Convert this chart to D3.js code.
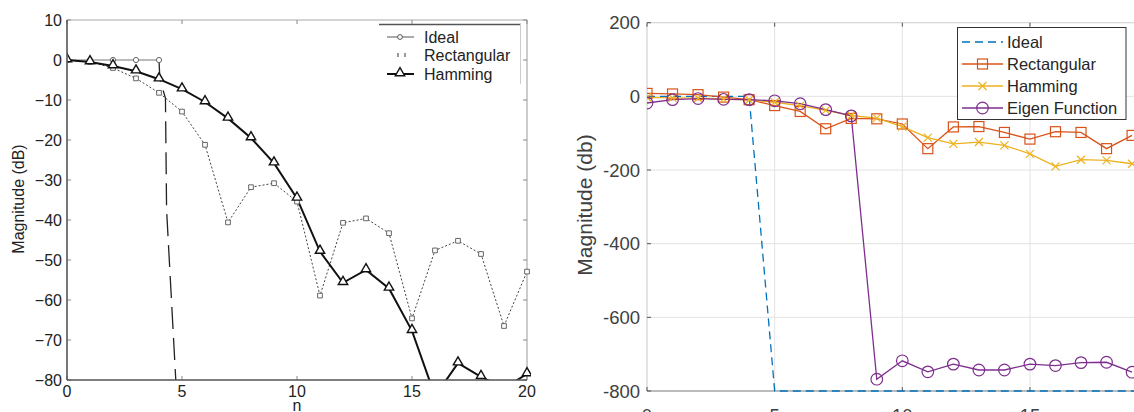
<!DOCTYPE html>
<html><head><meta charset="utf-8">
<script src="https://cdn.jsdelivr.net/npm/d3@7/dist/d3.min.js"></script>
<style>body{margin:0;background:#fff}svg{display:block;font-family:"Liberation Sans",Arial,sans-serif}</style>
</head><body><svg id="c" width="1134" height="412"></svg>
<script>
// ---------- Left chart data ----------
const nL = d3.range(0, 21);
const idealN = [0, 1, 2, 3, 4];
const idealL = [0, 0, 0, 0, 0];
const idealDropN = [4, 4.04, 4.28, 4.33, 4.73];
const idealDropV = [0, -5, -9.5, -37.5, -80];
const rectL = [0, -0.5, -2, -4.6, -8.2, -12.9, -21.2, -40.6, -31.8, -30.8, -35.4, -58.9, -40.7, -39.6, -43.3, -64.6, -47.6, -45.2, -48.5, -66.5, -52.9];
const hammL = [0, -0.5, -1.5, -2.8, -4.8, -7.3, -10.5, -14.6, -19.5, -25.8, -34.6, -47.9, -55.7, -52.5, -57.1, -67.7, -84, -75.8, -79.2, -82, -78.5];
const yTicksL = [10, 0, -10, -20, -30, -40, -50, -60, -70, -80];
const xTicksL = [0, 5, 10, 15, 20];
const legendL = ["Ideal", "Rectangular", "Hamming"];

// ---------- Right chart data ----------
const nR = d3.range(0, 20);
const idealR = [0, 0, 0, 0, 0, -800, -800, -800, -800, -800, -800, -800, -800, -800, -800, -800, -800, -800, -800, -800, -800];
const rectR = [8, 6.5, 4.6, -2, -9, -25, -41, -88, -60, -61, -75, -142, -83, -82, -98, -116, -96, -98, -142, -106];
const hammR = [-3, -4, -5, -7, -10, -16, -25, -38, -52, -59, -82, -112, -129, -124, -133, -156, -190, -172, -174, -183];
const eigenR = [-18, -9, -6, -8, -9, -12, -20, -36, -53, -768, -718, -748, -727, -743, -743, -727, -731, -723, -722, -749];
const yTicksR = [200, 0, -200, -400, -600, -800];
const xTicksR = [0, 5, 10, 15, 20];
const legendR = ["Ideal", "Rectangular", "Hamming", "Eigen Function"];

const svg = d3.select("#c");
const defs = svg.append("defs");

// ================= LEFT =================
const xL = d3.scaleLinear().domain([0, 20]).range([67, 527]);
const yL = d3.scaleLinear().domain([-80, 10]).range([380, 20]);
defs.append("clipPath").attr("id", "clipL").append("rect")
  .attr("x", xL(0)).attr("y", yL(10)).attr("width", xL(20) - xL(0) + 4).attr("height", yL(-80) - yL(10));

const gL = svg.append("g");
// box: top/right light
gL.append("line").attr("x1", xL(0)).attr("x2", xL(20)).attr("y1", yL(10)).attr("y2", yL(10)).attr("stroke", "#aaa");
gL.append("line").attr("x1", xL(20)).attr("x2", xL(20)).attr("y1", yL(10)).attr("y2", yL(-80)).attr("stroke", "#999");
// ticks inward
yTicksL.forEach(t => {
  gL.append("line").attr("x1", xL(0)).attr("x2", xL(0) + 4).attr("y1", yL(t)).attr("y2", yL(t)).attr("stroke", "#888");
  gL.append("line").attr("x1", xL(20)).attr("x2", xL(20) - 4).attr("y1", yL(t)).attr("y2", yL(t)).attr("stroke", "#888");
  gL.append("text").attr("x", 62).attr("y", yL(t)).attr("dy", "0.36em").attr("text-anchor", "end")
    .attr("font-size", 16).attr("fill", "#222").text(t < 0 ? "\u2212" + Math.abs(t) : t);
});
xTicksL.forEach(t => {
  gL.append("line").attr("x1", xL(t)).attr("x2", xL(t)).attr("y1", yL(-80)).attr("y2", yL(-80) - 4).attr("stroke", "#888");
  gL.append("line").attr("x1", xL(t)).attr("x2", xL(t)).attr("y1", yL(10)).attr("y2", yL(10) + 4).attr("stroke", "#888");
  gL.append("text").attr("x", xL(t)).attr("y", 397).attr("text-anchor", "middle")
    .attr("font-size", 16).attr("fill", "#222").text(t);
});
gL.append("text").attr("x", xL(10)).attr("y", 411).attr("text-anchor", "middle").attr("font-size", 16).attr("fill", "#222").text("n");
gL.append("text").attr("transform", "translate(24,199) rotate(-90)").attr("text-anchor", "middle")
  .attr("font-size", 16).attr("fill", "#222").text("Magnitude (dB)");

const plotL = gL.append("g").attr("clip-path", "url(#clipL)");
const lineL = d3.line().x(d => xL(d[0])).y(d => yL(d[1]));
// Ideal
plotL.append("path").attr("d", lineL(idealN.map((n, i) => [n, idealL[i]]))).attr("fill", "none").attr("stroke", "#777").attr("stroke-width", 1);
plotL.append("path").attr("d", lineL(idealDropN.map((n, i) => [n, idealDropV[i]]))).attr("fill", "none")
  .attr("stroke", "#222").attr("stroke-width", 1.3).attr("stroke-dasharray", "22,9");
// Rectangular
plotL.append("path").attr("d", lineL(nL.map((n, i) => [n, rectL[i]]))).attr("fill", "none").attr("stroke", "#444")
  .attr("stroke-width", 1).attr("stroke-dasharray", "2,2");
// Hamming
plotL.append("path").attr("d", lineL(nL.map((n, i) => [n, hammL[i]]))).attr("fill", "none").attr("stroke", "#111").attr("stroke-width", 2);
// markers
plotL.selectAll(".ci").data(idealN).enter().append("circle").attr("cx", n => xL(n)).attr("cy", (n, i) => yL(idealL[i]))
  .attr("r", 2.6).attr("fill", "#fff").attr("stroke", "#666");
plotL.selectAll(".sq").data(nL).enter().append("path")
  .attr("transform", (n, i) => `translate(${xL(n)},${yL(rectL[i])})`)
  .attr("d", d3.symbol(d3.symbolSquare, 22)()).attr("fill", "#fff").attr("stroke", "#555").attr("stroke-width", 0.9);
plotL.selectAll(".tr").data(nL).enter().append("path")
  .attr("transform", (n, i) => `translate(${xL(n)},${yL(hammL[i]) - 1})`)
  .attr("d", d3.symbol(d3.symbolTriangle, 38)()).attr("fill", "#fff").attr("stroke", "#111").attr("stroke-width", 1.4);
// axis lines left/bottom
gL.append("line").attr("x1", xL(0)).attr("x2", xL(0)).attr("y1", yL(10)).attr("y2", yL(-80)).attr("stroke", "#555").attr("stroke-width", 1.6);
gL.append("line").attr("x1", xL(0)).attr("x2", xL(20)).attr("y1", yL(-80)).attr("y2", yL(-80)).attr("stroke", "#555").attr("stroke-width", 1.6);

// legend left
const lg = gL.append("g");
lg.append("rect").attr("x", 379).attr("y", 24).attr("width", 142).attr("height", 60).attr("fill", "#fff");
lg.append("line").attr("x1", 379).attr("x2", 521).attr("y1", 24.5).attr("y2", 24.5).attr("stroke", "#555").attr("stroke-width", 1.5);
lg.append("line").attr("x1", 520.5).attr("x2", 520.5).attr("y1", 24).attr("y2", 84).attr("stroke", "#ccc");
const lyL = [37, 55, 74];
legendL.forEach((name, i) => {
  lg.append("text").attr("x", 424).attr("y", lyL[i] + 5.8).attr("font-size", 16).attr("fill", "#222").text(name);
});
lg.append("line").attr("x1", 387).attr("x2", 414).attr("y1", lyL[0]).attr("y2", lyL[0]).attr("stroke", "#555");
lg.append("circle").attr("cx", 400).attr("cy", lyL[0]).attr("r", 2.4).attr("fill", "#fff").attr("stroke", "#555");
[398, 405].forEach(x => lg.append("line").attr("x1", x).attr("x2", x).attr("y1", lyL[1] - 2).attr("y2", lyL[1] + 2).attr("stroke", "#333"));
lg.append("line").attr("x1", 387).attr("x2", 414).attr("y1", lyL[2]).attr("y2", lyL[2]).attr("stroke", "#111").attr("stroke-width", 2);
lg.append("path").attr("transform", `translate(400,${lyL[2] - 1})`).attr("d", d3.symbol(d3.symbolTriangle, 38)())
  .attr("fill", "#fff").attr("stroke", "#111").attr("stroke-width", 1.4);

// ================= RIGHT =================
const xR = d3.scaleLinear().domain([0, 20]).range([647, 1157.6]);
const yR = d3.scaleLinear().domain([-800, 200]).range([391, 22.7]);
defs.append("clipPath").attr("id", "clipR").append("rect")
  .attr("x", xR(0)).attr("y", yR(200)).attr("width", xR(20) - xR(0)).attr("height", yR(-800) - yR(200) + 1);
const gR = svg.append("g");
// grid
yTicksR.forEach(t => gR.append("line").attr("x1", xR(0)).attr("x2", xR(20)).attr("y1", yR(t)).attr("y2", yR(t)).attr("stroke", "#e3e3e3"));
xTicksR.forEach(t => gR.append("line").attr("x1", xR(t)).attr("x2", xR(t)).attr("y1", yR(200)).attr("y2", yR(-800)).attr("stroke", "#e3e3e3"));
// box
gR.append("line").attr("x1", xR(0)).attr("x2", xR(0)).attr("y1", yR(200)).attr("y2", yR(-800)).attr("stroke", "#d5d5d5");
gR.append("line").attr("x1", xR(0)).attr("x2", xR(20)).attr("y1", yR(200)).attr("y2", yR(200)).attr("stroke", "#d5d5d5");
gR.append("line").attr("x1", xR(0)).attr("x2", xR(20)).attr("y1", yR(-800)).attr("y2", yR(-800)).attr("stroke", "#888").attr("stroke-width", 1.2);
// ticks & labels
yTicksR.forEach(t => {
  gR.append("line").attr("x1", xR(0)).attr("x2", xR(0) + 4).attr("y1", yR(t)).attr("y2", yR(t)).attr("stroke", "#555");
  gR.append("text").attr("x", 640).attr("y", yR(t)).attr("dy", "0.36em").attr("text-anchor", "end")
    .attr("font-size", 18.5).attr("fill", "#404040").text(t);
});
xTicksR.forEach(t => {
  gR.append("line").attr("x1", xR(t)).attr("x2", xR(t)).attr("y1", yR(-800)).attr("y2", yR(-800) - 4).attr("stroke", "#555");
  gR.append("line").attr("x1", xR(t)).attr("x2", xR(t)).attr("y1", yR(200)).attr("y2", yR(200) + 4).attr("stroke", "#555");
  gR.append("text").attr("x", xR(t)).attr("y", 422).attr("text-anchor", "middle")
    .attr("font-size", 18.5).attr("fill", "#404040").text(t);
});
gR.append("text").attr("transform", "translate(592,205) rotate(-90)").attr("text-anchor", "middle")
  .attr("font-size", 21).attr("fill", "#404040").text("Magnitude (db)");

const plotR = gR.append("g").attr("clip-path", "url(#clipR)");
const lineR = d3.line().x(d => xR(d[0])).y(d => yR(d[1]));
const colors = ["#0072BD", "#D95319", "#EDB120", "#7E2F8E"];
plotR.append("path").attr("d", lineR(idealR.map((v, i) => [i, v]))).attr("fill", "none").attr("stroke", colors[0])
  .attr("stroke-width", 1.3).attr("stroke-dasharray", "8,5");
plotR.append("path").attr("d", lineR(nR.map((n, i) => [n, rectR[i]]))).attr("fill", "none").attr("stroke", colors[1]).attr("stroke-width", 1.3);
plotR.append("path").attr("d", lineR(nR.map((n, i) => [n, hammR[i]]))).attr("fill", "none").attr("stroke", colors[2]).attr("stroke-width", 1.3);
plotR.append("path").attr("d", lineR(nR.map((n, i) => [n, eigenR[i]]))).attr("fill", "none").attr("stroke", colors[3]).attr("stroke-width", 1.3);
// markers
plotR.selectAll(".rs").data(nR).enter().append("rect")
  .attr("x", (n, i) => xR(n) - 5).attr("y", (n, i) => yR(rectR[i]) - 5).attr("width", 10).attr("height", 10)
  .attr("fill", "none").attr("stroke", colors[1]).attr("stroke-width", 1.2);
plotR.selectAll(".hx").data(nR).enter().append("path")
  .attr("transform", (n, i) => `translate(${xR(n)},${yR(hammR[i])})`)
  .attr("d", "M-4,-4L4,4M-4,4L4,-4").attr("stroke", colors[2]).attr("stroke-width", 1.2);
plotR.selectAll(".ec").data(nR).enter().append("circle")
  .attr("cx", n => xR(n)).attr("cy", (n, i) => yR(eigenR[i])).attr("r", 5.8)
  .attr("fill", "none").attr("stroke", colors[3]).attr("stroke-width", 1.2);

// legend right
const lr = gR.append("g");
lr.append("rect").attr("x", 957.5).attr("y", 27.5).attr("width", 168.5).attr("height", 92).attr("fill", "#fff").attr("stroke", "#333").attr("stroke-width", 1);
const lyR = [42, 64, 86, 108];
legendR.forEach((name, i) => {
  lr.append("text").attr("x", 1007).attr("y", lyR[i] + 6).attr("font-size", 16.5).attr("fill", "#262626").text(name);
  const ln = lr.append("line").attr("x1", 962).attr("x2", 1003).attr("y1", lyR[i]).attr("y2", lyR[i]).attr("stroke", colors[i]).attr("stroke-width", 1.3);
  if (i === 0) ln.attr("stroke-dasharray", "8,5");
});
lr.append("rect").attr("x", 977.5).attr("y", lyR[1] - 5).attr("width", 10).attr("height", 10).attr("fill", "none").attr("stroke", colors[1]).attr("stroke-width", 1.2);
lr.append("path").attr("transform", `translate(982.5,${lyR[2]})`).attr("d", "M-4,-4L4,4M-4,4L4,-4").attr("stroke", colors[2]).attr("stroke-width", 1.2);
lr.append("circle").attr("cx", 982.5).attr("cy", lyR[3]).attr("r", 5.8).attr("fill", "none").attr("stroke", colors[3]).attr("stroke-width", 1.2);
</script></body></html>
